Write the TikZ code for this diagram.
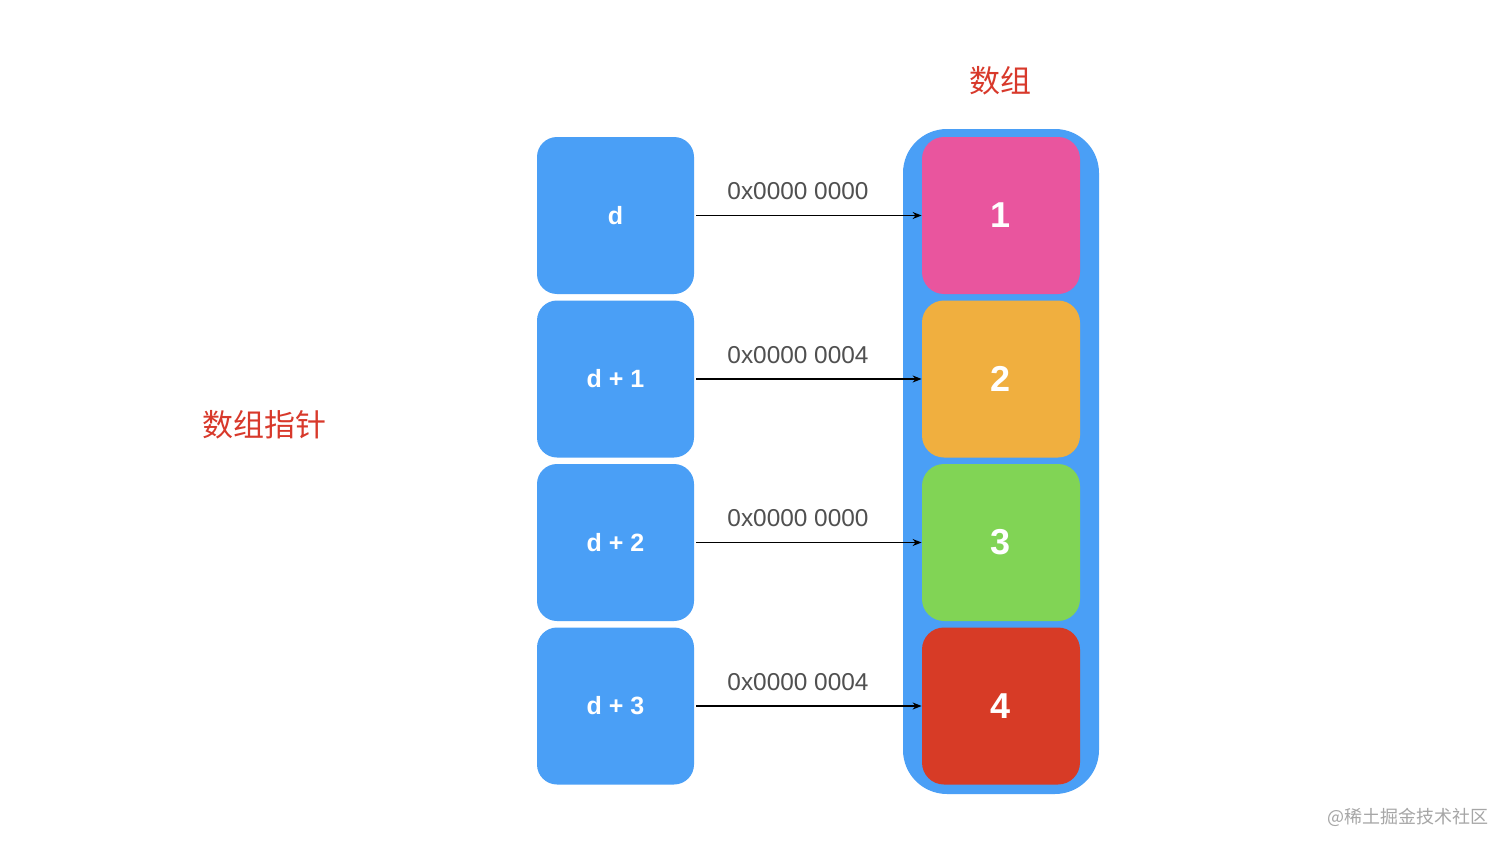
\documentclass[tikz,border=0pt]{standalone}
\usepackage{fontspec}
\setmainfont{Liberation Sans}
\newfontfamily\cjk{Noto Sans CJK SC}
\usetikzlibrary{arrows.meta}
\definecolor{bblue}{HTML}{4A9FF6}
\definecolor{cpink}{HTML}{E9559E}
\definecolor{corange}{HTML}{F0AF3F}
\definecolor{cgreen}{HTML}{81D455}
\definecolor{cred}{HTML}{D73B26}
\definecolor{titlered}{HTML}{D8392B}
\definecolor{addrgray}{HTML}{505050}
\begin{document}
\begin{tikzpicture}[x=0.5pt,y=-0.5pt,
  ptrbox/.style={fill=bblue, draw=none, rounded corners=10pt, minimum width=78.5pt, minimum height=78.5pt, inner sep=0pt, text=white, font=\fontsize{12.5}{13}\selectfont\bfseries},
  valbox/.style={draw=none, rounded corners=11pt, minimum width=79pt, minimum height=78.5pt, inner sep=0pt, text=white, font=\fontsize{18}{20}\selectfont\bfseries},
  addr/.style={text=addrgray, font=\fontsize{12.2}{14}\selectfont, inner sep=0pt},
  conn/.style={-{Stealth[length=4.5pt,width=3.5pt]}, line width=0.65pt, black},
  title/.style={text=titlered, font=\cjk\fontsize{15.5}{17}\selectfont, inner sep=0pt}]
\useasboundingbox (0,0) rectangle (1512,851);
\fill[white] (0,0) rectangle (1512,851);
% outer array container
\fill[bblue, rounded corners=22pt] (903,129) rectangle (1099,794);
% pointer boxes
\node[ptrbox] (p0) at (615.5,215.5) {d};
\node[ptrbox] (p1) at (615.5,379) {d + 1};
\node[ptrbox] (p2) at (615.5,542.5) {d + 2};
\node[ptrbox] (p3) at (615.5,706) {d + 3};
% value boxes
\node[valbox, fill=cpink] (v0) at (1001,215.5) {1};
\node[valbox, fill=corange] (v1) at (1001,379) {2};
\node[valbox, fill=cgreen] (v2) at (1001,542.5) {3};
\node[valbox, fill=cred] (v3) at (1001,706) {4};
% connectors
\draw[conn] ([xshift=1pt]p0.east) -- (v0.west);
\draw[conn] ([xshift=1pt]p1.east) -- (v1.west);
\draw[conn] ([xshift=1pt]p2.east) -- (v2.west);
\draw[conn] ([xshift=1pt]p3.east) -- (v3.west);
% address labels
\node[addr] (a0) at (798,191) {0x0000 0000};
\node[addr] (a1) at (798,355) {0x0000 0004};
\node[addr] (a2) at (798,518) {0x0000 0000};
\node[addr] (a3) at (798,682) {0x0000 0004};
% titles
\node[title] (t1) at (1000,81) {数组};
\node[title] (t2) at (264,425) {数组指针};
% watermark
\node[text=black!35, font=\cjk\fontsize{9}{10}\selectfont, inner sep=0pt] (wm) at (1408,817) {@稀土掘金技术社区};
\end{tikzpicture}
\end{document}
